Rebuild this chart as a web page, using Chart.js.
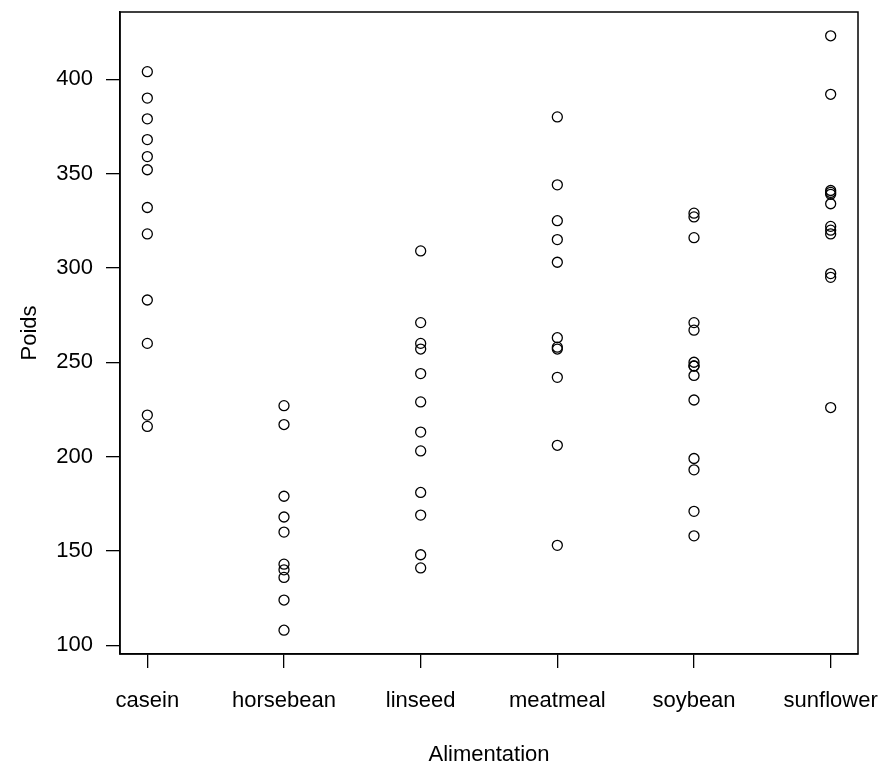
<!DOCTYPE html>
<html>
<head>
<meta charset="utf-8">
<script src="https://cdn.jsdelivr.net/npm/chart.js@4"></script>
<style>
  body { margin: 0; background: #fff; }
  #wrap { width: 882px; height: 770px; }
</style>
</head>
<body>
<div id="wrap"><canvas id="chart" width="882" height="770"></canvas></div>
<script>
// feed groups (chickwts)
const categories = ['casein', 'horsebean', 'linseed', 'meatmeal', 'soybean', 'sunflower'];

const casein    = [368, 390, 379, 260, 404, 318, 352, 359, 216, 222, 283, 332];
const horsebean = [179, 160, 136, 227, 217, 168, 108, 124, 143, 140];
const linseed   = [309, 229, 181, 141, 260, 203, 148, 169, 213, 257, 244, 271];
const meatmeal  = [325, 257, 303, 315, 380, 153, 263, 242, 206, 344, 258];
const soybean   = [243, 230, 248, 327, 329, 250, 193, 271, 316, 267, 199, 171, 158, 248];
const sunflower = [423, 340, 392, 339, 341, 226, 320, 295, 334, 322, 297, 318];

const yTicks = [100, 150, 200, 250, 300, 350, 400];

const groups = [casein, horsebean, linseed, meatmeal, soybean, sunflower];

// build the points: x is the group number (1..6)
const points = [];
groups.forEach((vals, gi) => {
    vals.forEach(v => points.push({ x: gi + 1, y: v }));
});

const font = { family: '"Liberation Sans", Arial, sans-serif', size: 22 };

// draws the R style box around the plot region
const boxPlugin = {
    id: 'box',
    afterDraw(chart) {
        const a = chart.chartArea;
        const ctx = chart.ctx;
        ctx.save();
        ctx.strokeStyle = '#000';
        ctx.lineWidth = 1.5;
        ctx.strokeRect(a.left, a.top, a.right - a.left, a.bottom - a.top);
        ctx.restore();
    }
};

new Chart(document.getElementById('chart'), {
    type: 'scatter',
    data: {
        datasets: [{
            data: points,
            pointStyle: 'circle',
            pointRadius: 5,
            pointHoverRadius: 5,
            pointBorderWidth: 1.3,
            pointBorderColor: '#000',
            pointBackgroundColor: 'rgba(0,0,0,0)'
        }]
    },
    options: {
        responsive: false,
        animation: false,
        layout: { padding: { left: 0, top: 12, right: 24, bottom: 0 } },
        plugins: {
            legend: { display: false },
            tooltip: { enabled: false }
        },
        scales: {
            x: {
                type: 'linear',
                min: 0.8,
                max: 6.2,
                afterBuildTicks: scale => {
                    scale.ticks = categories.map((c, i) => ({ value: i + 1 }));
                },
                afterFit: scale => {
                    scale.height = 116;
                    scale.paddingLeft = 0;
                    scale.paddingRight = 0;
                },
                ticks: {
                    color: '#000',
                    font: font,
                    padding: 20,
                    maxRotation: 0,
                    autoSkip: false,
                    callback: v => categories[v - 1]
                },
                grid: {
                    display: true,
                    drawOnChartArea: false,
                    tickLength: 14,
                    color: '#000',
                    lineWidth: 1.3
                },
                border: { display: true, color: '#000', width: 1.5 },
                title: {
                    display: true,
                    text: 'Alimentation',
                    color: '#000',
                    font: font,
                    padding: { top: 0, bottom: 2 }
                }
            },
            y: {
                min: 95.4,
                max: 435.6,
                afterBuildTicks: scale => {
                    scale.ticks = yTicks.map(v => ({ value: v }));
                },
                afterFit: scale => {
                    scale.width = 120;
                    scale.paddingTop = 0;
                    scale.paddingBottom = 0;
                },
                ticks: {
                    color: '#000',
                    font: font,
                    padding: 13
                },
                grid: {
                    display: true,
                    drawOnChartArea: false,
                    tickLength: 14,
                    color: '#000',
                    lineWidth: 1.3
                },
                border: { display: true, color: '#000', width: 1.5 },
                title: {
                    display: true,
                    text: 'Poids',
                    color: '#000',
                    font: font,
                    padding: { top: 17, bottom: 0 }
                }
            }
        }
    },
    plugins: [boxPlugin]
});
</script>
</body>
</html>
